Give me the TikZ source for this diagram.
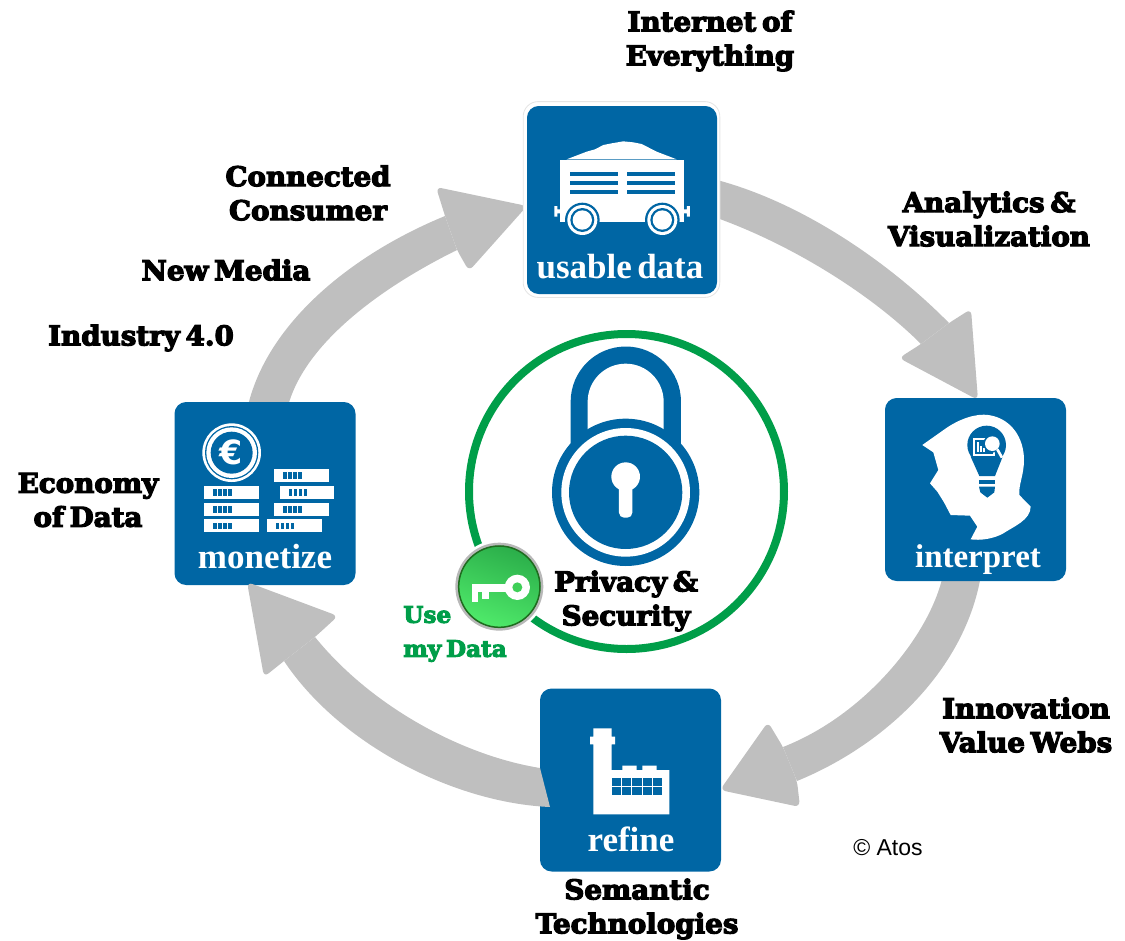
\documentclass[tikz,border=0pt]{standalone}
\usepackage{fontspec}
\setmainfont{Liberation Serif}
\newfontfamily\slab{DejaVu Serif}[FakeStretch=1.02,WordSpace=0.6,BoldFeatures={FakeBold=4.5}]
\newfontfamily\boxfont{Liberation Serif}
\newfontfamily\sanslbl{Liberation Sans}
\newfontfamily\eurofont{DejaVu Sans}
\definecolor{atosblue}{HTML}{0066A4}
\definecolor{arrowgray}{HTML}{BFBFBF}
\definecolor{ringgreen}{HTML}{009E49}
\definecolor{keyleft}{HTML}{2BAE4A}
\definecolor{keyright}{HTML}{4FEA6A}
\definecolor{keyrim}{HTML}{1F6B1F}
\definecolor{keyhole}{HTML}{3FCF58}
\tikzset{
  tile/.style={fill=atosblue,rounded corners=7pt,minimum width=108.6pt,minimum height=109.8pt,inner sep=0pt},
  tilelabel/.style={text=white,inner sep=0pt,anchor=base,font=\boxfont\bfseries\fontsize{21}{24}\selectfont},
  lbl/.style={text=black,inner sep=0pt,align=center,font=\slab\bfseries\fontsize{16.3}{20.4}\selectfont},
  greenlbl/.style={text=ringgreen,inner sep=0pt,align=left,font=\slab\bfseries\fontsize{13.6}{20.4}\selectfont},
  arrowbody/.style={fill=arrowgray},
  arrowhead/.style={fill=arrowgray,rounded corners=3.5pt},
  icon/.style={x=.2pt,y=-.2pt},
}
\begin{document}
\begin{tikzpicture}[x=.6pt,y=-.6pt]
\useasboundingbox (0,0) rectangle (1125,941);
% arrows under the tiles
\fill[arrowbody] (717,180) .. controls (807,204) and (894,267) .. (949,323)
  -- (921,344) .. controls (871,294) and (792,245) .. (717,218) -- cycle;
\fill[arrowhead] (949,323) -- (971,309) -- (978,400) -- (899,358) -- (921,344) -- cycle;
\fill[arrowbody] (981,575) .. controls (965,670) and (885,745) .. (797,781)
  -- (783,747) .. controls (865,715) and (930,635) .. (943,575) -- cycle;
\fill[arrowhead] (783,747) -- (768,722) -- (720,790) -- (800,807) -- (797,781) -- cycle;
\fill[arrowbody] (247,410) .. controls (265,325) and (350,255) .. (445,216)
  -- (457,250) .. controls (380,288) and (302,345) .. (287,410) -- cycle;
\fill[arrowhead] (445,216) -- (436,187) -- (527,206) -- (469,271) -- (457,250) -- cycle;
% tiles
\node[draw=black!10,fill=white,rounded corners=9pt,line width=.5pt,minimum width=118pt,minimum height=117.5pt,inner sep=0pt] (halo) at (621.5,199.5) {};
\node[tile,minimum width=114pt,minimum height=112.8pt] (usable) at (622,200) {};
\node[tile] (monetize) at (265,493.5) {};
\node[tile] (interpret) at (975.5,489.5) {};
\node[tile] (refine) at (630.5,780) {};
\node[tilelabel] (usablelbl) at (620,278) {usable\hspace{-2pt} data};
\node[tilelabel] (monetizelbl) at (265,568) {monetize};
\node[tilelabel,font=\boxfont\bfseries\fontsize{19.8}{24}\selectfont] (interpretlbl) at (978,567) {interpret};
\node[tilelabel] (refinelbl) at (631,851) {refine};
% arrow over refine tile
\fill[arrowbody] (550,807) .. controls (455,803) and (340,745) .. (284,661)
  -- (315,637) .. controls (370,705) and (460,755) .. (540,768) -- cycle;
\fill[arrowhead] (284,661) -- (264,677) -- (247,582) -- (338,616) -- (315,637) -- cycle;
% cart icon
\begin{scope}[shift={(520,100)},icon]
  \fill[white] (140,178) -- (200,155) -- (225,148) -- (250,135) -- (275,130) -- (310,124) -- (340,127) -- (365,132) -- (410,155) -- (470,178) -- cycle;
  \fill[white] (120,181) -- (492,181) -- (492,365) -- (120,365) -- cycle;
  \fill[white] (103,318) -- (112,318) -- (112,328) -- (130,328) -- (130,340) -- (112,340) -- (112,350) -- (103,350) -- cycle;
  \fill[white] (510,318) -- (501,318) -- (501,328) -- (483,328) -- (483,340) -- (501,340) -- (501,350) -- (510,350) -- cycle;
  \foreach \y in {215,243,270}{
    \fill[atosblue] (150,\y) rectangle (295,\y+13);
    \fill[atosblue] (320,\y) rectangle (464,\y+13);
  }
  \foreach \cx in {187,427}{
    \fill[atosblue] (\cx,360) circle[radius=52];
    \fill[white] (\cx,360) circle[radius=45];
    \fill[atosblue] (\cx,360) circle[radius=36];
    \fill[white] (\cx,360) circle[radius=29];
  }
\end{scope}
% money icon
\begin{scope}[shift={(170,395)},icon]
  \fill[white] (185,173) circle[radius=88];
  \fill[atosblue] (185,173) circle[radius=80];
  \fill[white] (185,173) circle[radius=76];
  \fill[atosblue] (185,173) circle[radius=63];
  \node[text=white,inner sep=0pt,font=\eurofont\bfseries\fontsize{20}{20}\selectfont] (euro) at (182,173) {€};
  \foreach \lx/\ty in {103/272,103/323,103/373,313/222,329/272,313/323,291/373}{
    \fill[white] (\lx,\ty) rectangle (\lx+164,\ty+39);
    \foreach \b in {27,42,57,72}{
      \fill[atosblue] (\lx+\b,\ty+10) rectangle (\lx+\b+10,\ty+30);
    }
  }
\end{scope}
% head icon
\begin{scope}[shift={(880,395)},icon]
  \fill[white] (127,150) -- (195,102) .. controls (240,70) and (290,55) .. (325,60)
    .. controls (395,70) and (432,130) .. (432,195) .. controls (432,240) and (415,270) .. (418,300)
    -- (452,335) .. controls (452,375) and (400,395) .. (370,415) .. controls (340,432) and (300,437) .. (272,433)
    -- (292,395) -- (270,362) -- (212,360) -- (192,322) -- (172,290) -- (150,265) -- (175,225) -- (160,172) -- cycle;
  \fill[atosblue] (320,150) circle[radius=58];
  \fill[atosblue] (272,185) -- (368,185) -- (345,243) -- (298,243) -- cycle;
  \fill[atosblue] (297,256) rectangle (345,268);
  \fill[atosblue] (297,275) -- (345,275) -- (343,292) -- (322,308) -- (301,292) -- cycle;
  \fill[white] (279,128) rectangle (345,182);
  \fill[atosblue] (285,134) rectangle (339,176);
  \foreach \bx/\bh in {290/30,300/18,310/12}{\fill[white] (\bx,170) rectangle (\bx+6,170-\bh);}
  \fill[atosblue] (337,146) circle[radius=27];
  \fill[white] (337,146) circle[radius=22];
  \draw[white,line width=1.6pt] (352,163) -- (366,188);
\end{scope}
% factory icon
\begin{scope}[shift={(535,685)},icon]
  \fill[white] (175,130) -- (230,130) -- (230,155) -- (240,155) -- (240,178) -- (230,178) -- (230,255) -- (262,255) -- (262,242) -- (305,242) -- (305,255) -- (322,255) -- (322,242) -- (365,242) -- (365,255) -- (403,255) -- (403,388) -- (175,388) -- (175,178) -- (165,178) -- (165,155) -- (175,155) -- cycle;
  \foreach \i in {0,1,2,3,4}{
    \fill[atosblue] (230+\i*31,280) rectangle (258+\i*31,303);
    \fill[atosblue] (230+\i*31,307) rectangle (258+\i*31,330);
  }
\end{scope}
% security circle
\node[circle,draw=ringgreen,line width=4.8pt,minimum size=189pt,inner sep=0pt] (ring) at (626.5,491.5) {};
% padlock
\begin{scope}[shift={(395,330)},icon]
  \fill[atosblue] (527,345) -- (527,215) arc[start angle=180,end angle=360,radius=165.5] -- (858,345) -- cycle;
  \fill[white] (578,320) -- (578,215) arc[start angle=180,end angle=360,radius=114] -- (806,320) -- cycle;
  \fill[atosblue] (692,487) circle[radius=221];
  \fill[white] (692,487) circle[radius=193];
  \fill[atosblue] (692,487) circle[radius=170];
  \fill[white] (692,440) circle[radius=43];
  \fill[white,rounded corners=3pt] (672,450) -- (712,450) -- (712,563) -- (672,563) -- cycle;
  % key button
  \fill[white] (313,770) circle[radius=140];
  \fill[black!28] (313,770) circle[radius=132];
  \shade[left color=keyleft,right color=keyright,shading angle=-20] (313,770) circle[radius=123];
  \draw[keyrim,line width=.9pt] (313,770) circle[radius=122];
  \fill[white] (367,772) circle[radius=38];
  \fill[keyhole] (367,772) circle[radius=15];
  \fill[white] (230,762) rectangle (345,785);
  \fill[white] (230,785) rectangle (250,815);
  \fill[white] (262,785) rectangle (282,806);
\end{scope}
% labels
\node[lbl] (ioe) at (710,41) {Internet of\\Everything};
\node[lbl] (cc) at (308,193) {Connected\\Consumer};
\node[lbl] (nm) at (226,270) {New Media};
\node[lbl] (i4) at (141,338) {Industry 4.0};
\node[lbl] (eod) at (88,500) {Economy\\of Data};
\node[lbl] (av) at (989,219) {Analytics \&\\Visualization};
\node[lbl] (ivw) at (1026,725) {Innovation\\Value Webs};
\node[lbl] (st) at (637,909) {Semantic\\Technologies};
\node[lbl] (ps) at (626,601) {Privacy \&\\Security};
\node[greenlbl,anchor=west] (umd) at (403,634) {Use\\my Data};
\node[inner sep=0pt,font=\sanslbl\fontsize{13.8}{15}\selectfont] (atos) at (888,848) {© Atos};
\end{tikzpicture}
\end{document}
